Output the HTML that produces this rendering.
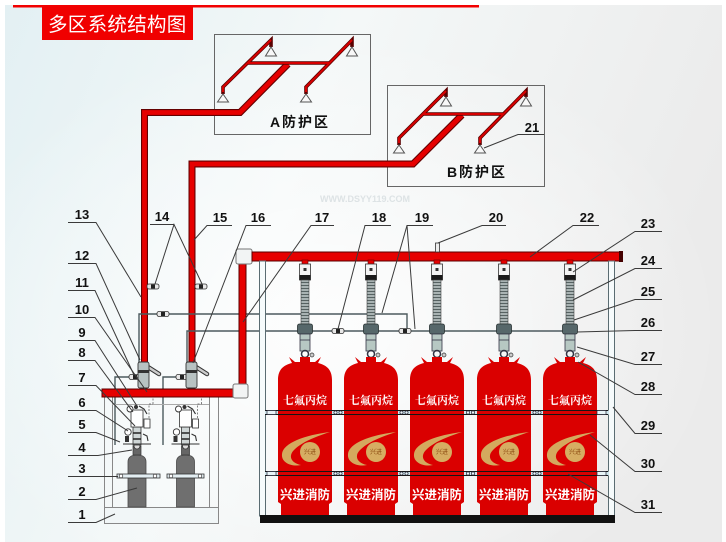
<!DOCTYPE html>
<html><head><meta charset="utf-8">
<style>
html,body{margin:0;padding:0;background:#fff;}
svg{display:block;}
.n{font-family:"Liberation Sans",Arial,sans-serif;font-weight:bold;font-size:13px;fill:#111;text-anchor:middle;}
.ld{stroke:#3a3a3a;stroke-width:1;fill:none;}
.pl{stroke:#4c5a5e;stroke-width:1.4;fill:none;}
.fr{stroke:#5a6c72;stroke-width:1;fill:none;}
</style></head><body>
<svg width="726" height="542" viewBox="0 0 726 542" xmlns="http://www.w3.org/2000/svg">
<defs>
<linearGradient id="bg" x1="0" y1="0" x2="1" y2="0.3">
 <stop offset="0" stop-color="#e3f0f3"/>
 <stop offset="0.45" stop-color="#f4f8f8"/>
 <stop offset="1" stop-color="#ebebeb"/>
</linearGradient>
<radialGradient id="bg2" cx="0.45" cy="0.6" r="0.55">
 <stop offset="0" stop-color="#ffffff" stop-opacity="0.85"/>
 <stop offset="1" stop-color="#ffffff" stop-opacity="0"/>
</radialGradient>
<pattern id="hose" width="4" height="3" patternUnits="userSpaceOnUse">
 <rect width="4" height="3" fill="#a9b3b3"/>
 <rect x="0" y="0" width="4" height="1" fill="#566262"/>
</pattern>
<g id="cyl">
 <path d="M-27,380 C-27,369 -21,365 -13,363 L-16,357 L-10,362 L-5,362 L-5,357 L5,357 L5,362 L10,362 L16,357 L13,363 C21,365 27,369 27,380 L27,502 L24,504 L24,515 L-24,515 L-24,504 L-27,502 Z" fill="#da0000"/>
 <path d="M25,432 C0,435 -22,443 -23,454 C-24,463 -13,467 -4,465 C-14,463 -17,456 -11,450 C-2,441 13,436 25,432 Z" fill="#d4a95e"/>
 <circle cx="5" cy="452" r="10" fill="#d6ad62"/>
 <text x="5" y="454" font-size="6" fill="#8a4a10" text-anchor="middle" font-family="'Noto Sans CJK SC',sans-serif">兴进</text>
 <text x="0" y="404" font-size="11" fill="#fff" font-weight="bold" text-anchor="middle" font-family="'Liberation Serif','Noto Serif CJK SC',serif">七氟丙烷</text>
 <text x="0" y="499" font-size="12.5" fill="#fff" font-weight="bold" text-anchor="middle" font-family="'Liberation Sans','Noto Sans CJK SC',sans-serif">兴进消防</text>
</g>
<g id="asm">
 <rect x="-3" y="260" width="6" height="6" fill="#e60000" stroke="#600" stroke-width="0.6"/>
 <rect x="-5.5" y="264" width="11" height="16" fill="#f4f4f4" stroke="#333" stroke-width="0.8"/>
 <rect x="-5.5" y="275" width="11" height="5" fill="#1a1a1a"/>
 <rect x="-1.5" y="268" width="3" height="3" fill="#333"/>
 <rect x="-4" y="280" width="8" height="44" fill="url(#hose)" stroke="#444" stroke-width="0.6"/>
 <rect x="-7.5" y="324" width="15" height="10" rx="2" fill="#56676a" stroke="#2a3333" stroke-width="0.8"/>
 <rect x="-5" y="334" width="10" height="17" fill="#b7c8c3" stroke="#334" stroke-width="0.8"/>
 <line x1="-5" y1="340" x2="5" y2="340" stroke="#334" stroke-width="0.8"/>
 <circle cx="0" cy="354" r="3.5" fill="none" stroke="#334" stroke-width="1.5"/>
 <circle cx="7" cy="355" r="2" fill="#ccc" stroke="#333" stroke-width="0.7"/>
</g>
<g id="sml">
 <path d="M-9,507 L-9,462 Q-9,455 0,455 Q9,455 9,462 L9,507 Z" fill="#6f6f6f" stroke="#4a4a4a" stroke-width="0.8"/>
 <rect x="-4" y="446" width="8" height="9" fill="#666" stroke="#333" stroke-width="0.7"/>
 <circle cx="0" cy="446" r="3" fill="#ddd" stroke="#333" stroke-width="0.8"/>
 <rect x="-4" y="427" width="8" height="18" fill="#cfd6d6" stroke="#333" stroke-width="0.8"/>
 <line x1="-4" y1="433" x2="4" y2="433" stroke="#222" stroke-width="1.5"/>
 <line x1="-4" y1="439" x2="4" y2="439" stroke="#222" stroke-width="1.5"/>
 <rect x="-6" y="410" width="12" height="17" fill="#fff" stroke="#333" stroke-width="0.8"/>
 <rect x="7" y="419" width="6" height="9" fill="#fff" stroke="#333" stroke-width="0.8"/>
 <circle cx="-7" cy="409" r="3" fill="#fff" stroke="#333" stroke-width="0.9"/>
 <circle cx="-1" cy="407" r="2" fill="#333"/>
 <path d="M2,406 l5,3 l3,5" fill="none" stroke="#333" stroke-width="1.2"/>
 <circle cx="-9" cy="432" r="3.2" fill="#fff" stroke="#333" stroke-width="0.9"/>
 <rect x="-12" y="436" width="4" height="6" fill="#333"/>
 <path d="M6,434 l4,2 l1,5" fill="none" stroke="#333" stroke-width="1.1"/>
 <path d="M12,418 L12,404 L16,404 M16,404 L16,396" fill="none" stroke="#555" stroke-width="0.7" stroke-dasharray="2,1.5"/>
 <path d="M-14,444 L14,444" fill="none" stroke="#333" stroke-width="1"/>
</g>
<g id="cv">
 <rect x="0" y="-2.5" width="12" height="5" rx="2" fill="#e8e8e8" stroke="#333" stroke-width="0.8"/>
 <rect x="4" y="-2" width="4" height="4" fill="#222"/>
</g>
</defs>

<rect x="5" y="5" width="717" height="537" fill="url(#bg)"/>
<rect x="5" y="5" width="717" height="537" fill="url(#bg2)"/>

<!-- header -->
<rect x="13" y="5" width="466" height="2.5" fill="#f20000"/>
<rect x="42" y="7" width="151" height="33" fill="#f00000"/>
<text x="48" y="31" font-size="19.5" fill="#fff" font-family="'Liberation Sans','Noto Sans CJK SC',sans-serif" letter-spacing="0.3">多区系统结构图</text>

<text x="365" y="202" font-size="9" fill="#dde3e5" text-anchor="middle" font-family="'Liberation Sans',sans-serif" font-weight="bold">WWW.DSYY119.COM</text>

<!-- zone boxes -->
<rect x="214.5" y="34.5" width="156" height="100" fill="none" stroke="#666" stroke-width="1"/>
<rect x="387.5" y="85.5" width="157" height="101" fill="none" stroke="#666" stroke-width="1"/>
<text x="300" y="127" font-size="14" font-weight="bold" fill="#111" text-anchor="middle" letter-spacing="2" font-family="'Liberation Sans','Noto Sans CJK SC',sans-serif">A防护区</text>
<text x="477" y="177" font-size="14" font-weight="bold" fill="#111" text-anchor="middle" letter-spacing="2" font-family="'Liberation Sans','Noto Sans CJK SC',sans-serif">B防护区</text>

<!-- main pipes -->
<g fill="none" stroke-linejoin="miter">
 <polyline points="144.5,364 144.5,112.5 240,112.5 288,64" stroke="#640000" stroke-width="7"/>
 <polyline points="144.5,364 144.5,112.5 240,112.5 288,64" stroke="#e60000" stroke-width="4.8"/>
 <polyline points="192,364 192,164 413,164 462,115" stroke="#640000" stroke-width="7"/>
 <polyline points="192,364 192,164 413,164 462,115" stroke="#e60000" stroke-width="4.8"/>
 <!-- A branches -->
 <g stroke="#5a0000" stroke-width="3.6">
  <polyline points="223,94 223,87 271,40 271,47"/>
  <polyline points="306,94 306,87 352,40 352,47"/>
  <line x1="248" y1="63" x2="330" y2="63"/>
  <polyline points="399,145 399,138 446,91 446,97"/>
  <polyline points="480,145 480,138 526,91 526,97"/>
  <line x1="423" y1="114" x2="504" y2="114"/>
 </g>
 <g stroke="#d80000" stroke-width="2">
  <polyline points="223,92 223,87 271,40"/>
  <polyline points="306,92 306,87 352,40"/>
  <line x1="248" y1="63" x2="330" y2="63"/>
  <polyline points="399,143 399,138 446,91"/>
  <polyline points="480,143 480,138 526,91"/>
  <line x1="423" y1="114" x2="504" y2="114"/>
 </g>
</g>
<!-- sprinklers -->
<g fill="#f8f8f8" stroke="#555" stroke-width="1">
 <path d="M271,47 L276.5,56 L265.5,56 Z"/>
 <path d="M352,47 L357.5,56 L346.5,56 Z"/>
 <path d="M223,94 L228.5,102 L217.5,102 Z"/>
 <path d="M306,94 L311.5,102 L300.5,102 Z"/>
 <path d="M446,97 L451.5,106 L440.5,106 Z"/>
 <path d="M526,97 L531.5,106 L520.5,106 Z"/>
 <path d="M399,145 L404.5,153 L393.5,153 Z"/>
 <path d="M480,145 L485.5,153 L474.5,153 Z"/>
</g>
<text class="n" x="532" y="132">21</text>
<polyline class="ld" points="544,134.5 518,134.5 484,148"/>

<!-- check valves 14 -->
<use href="#cv" x="147" y="286.5"/>
<use href="#cv" x="195" y="286.5"/>

<!-- pilot lines -->
<polyline class="pl" points="139,363 139,314 407,314 407,331"/>
<polyline class="pl" points="187,363 187,331 576,331"/>
<polyline class="pl" points="115,445 115,377 131,377"/>
<polyline class="pl" points="163,445 163,377 179,377"/>
<use href="#cv" x="157" y="314"/>
<use href="#cv" x="332" y="331"/>
<use href="#cv" x="399" y="331"/>
<use href="#cv" x="129" y="377"/>
<use href="#cv" x="176" y="377"/>

<!-- start valves -->
<g>
 <line x1="148" y1="367" x2="159" y2="374" stroke="#333" stroke-width="4.5" stroke-linecap="round"/>
 <line x1="148" y1="367" x2="159" y2="374" stroke="#ccc" stroke-width="2.5" stroke-linecap="round"/>
 <rect x="138" y="362" width="11" height="26" rx="2" fill="#b8c2c2" stroke="#333" stroke-width="0.9"/>
 <rect x="138" y="370" width="11" height="3" fill="#333"/>
 <line x1="196" y1="367" x2="207" y2="374" stroke="#333" stroke-width="4.5" stroke-linecap="round"/>
 <line x1="196" y1="367" x2="207" y2="374" stroke="#ccc" stroke-width="2.5" stroke-linecap="round"/>
 <rect x="186" y="362" width="11" height="26" rx="2" fill="#b8c2c2" stroke="#333" stroke-width="0.9"/>
 <rect x="186" y="370" width="11" height="3" fill="#333"/>
</g>

<!-- left cabinet -->
<rect x="104.5" y="507.5" width="114" height="16" fill="#f1f6f7" stroke="#888" stroke-width="1"/>
<polyline points="104.5,397 104.5,523.5 218.5,523.5 218.5,397" fill="none" stroke="#888" stroke-width="1"/>
<line x1="112.5" y1="397" x2="112.5" y2="507" stroke="#888" stroke-width="1"/>
<line x1="209.5" y1="397" x2="209.5" y2="507" stroke="#888" stroke-width="1"/>
<line x1="112" y1="404.5" x2="209" y2="404.5" stroke="#aaa" stroke-width="1"/>
<use href="#sml" x="137" y="0"/>
<use href="#sml" x="185.5" y="0"/>
<rect x="117" y="474" width="43" height="4" fill="#e3eef2" stroke="#333" stroke-width="0.8"/>
<rect x="167" y="474" width="37" height="4" fill="#e3eef2" stroke="#333" stroke-width="0.8"/>
<circle cx="121" cy="476" r="1.8" fill="#fff" stroke="#333" stroke-width="0.7"/>
<circle cx="155" cy="476" r="1.8" fill="#fff" stroke="#333" stroke-width="0.7"/>
<circle cx="171" cy="476" r="1.8" fill="#fff" stroke="#333" stroke-width="0.7"/>
<circle cx="200" cy="476" r="1.8" fill="#fff" stroke="#333" stroke-width="0.7"/>

<!-- collector & riser -->
<rect x="102" y="389" width="132" height="8" fill="#e60000" stroke="#5a0000" stroke-width="1"/>
<rect x="239" y="262" width="7" height="123" fill="#e60000" stroke="#5a0000" stroke-width="1"/>
<rect x="233" y="384" width="15" height="14" rx="2" fill="#f2f4f4" stroke="#777" stroke-width="1"/>
<rect x="236" y="249" width="16" height="15" rx="2" fill="#f2f4f4" stroke="#777" stroke-width="1"/>
<rect x="252" y="252" width="369" height="9" fill="#e60000" stroke="#5a0000" stroke-width="1"/>
<rect x="619" y="251" width="4" height="11" fill="#400"/>
<rect x="435.5" y="243" width="4" height="9" fill="#eee" stroke="#333" stroke-width="0.8"/>

<!-- rack frame -->
<rect x="259.5" y="261" width="6" height="255" fill="#f6fbfc" stroke="#5a6c72" stroke-width="1"/>
<rect x="608.5" y="261" width="6" height="255" fill="#f6fbfc" stroke="#5a6c72" stroke-width="1"/>

<!-- strap backgrounds -->
<rect x="265" y="410.5" width="344" height="4" fill="#cfe6ee"/>
<rect x="265" y="471.5" width="344" height="4" fill="#cfe6ee"/>

<!-- cylinders -->
<use href="#asm" x="305" y="0"/>
<use href="#asm" x="371" y="0"/>
<use href="#asm" x="437" y="0"/>
<use href="#asm" x="504" y="0"/>
<use href="#asm" x="570" y="0"/>
<use href="#cyl" x="305" y="0"/>
<use href="#cyl" x="371" y="0"/>
<use href="#cyl" x="437" y="0"/>
<use href="#cyl" x="504" y="0"/>
<use href="#cyl" x="570" y="0"/>

<!-- straps -->
<g stroke="#151515" stroke-width="1">
 <line x1="265" y1="410.5" x2="608" y2="410.5"/>
 <line x1="265" y1="414.5" x2="608" y2="414.5"/>
 <line x1="265" y1="471.5" x2="608" y2="471.5"/>
 <line x1="265" y1="475.5" x2="608" y2="475.5"/>
</g>
<g fill="#e8f4f8" stroke="#223" stroke-width="0.7">
 <rect x="267" y="410.5" width="9" height="4"/>
 <rect x="597" y="410.5" width="9" height="4"/>
 <rect x="267" y="471.5" width="9" height="4"/>
 <rect x="597" y="471.5" width="9" height="4"/>
 <circle cx="335.5" cy="412.5" r="1.6"/><circle cx="340.5" cy="412.5" r="1.6"/>
 <circle cx="401.5" cy="412.5" r="1.6"/><circle cx="406.5" cy="412.5" r="1.6"/>
 <circle cx="468" cy="412.5" r="1.6"/><circle cx="473" cy="412.5" r="1.6"/>
 <circle cx="534.5" cy="412.5" r="1.6"/><circle cx="539.5" cy="412.5" r="1.6"/>
 <circle cx="335.5" cy="473.5" r="1.6"/><circle cx="340.5" cy="473.5" r="1.6"/>
 <circle cx="401.5" cy="473.5" r="1.6"/><circle cx="406.5" cy="473.5" r="1.6"/>
 <circle cx="468" cy="473.5" r="1.6"/><circle cx="473" cy="473.5" r="1.6"/>
 <circle cx="534.5" cy="473.5" r="1.6"/><circle cx="539.5" cy="473.5" r="1.6"/>
</g>
<rect x="260" y="515" width="355" height="8" fill="#111"/>

<!-- left labels -->
<g class="n">
 <text x="82" y="219">13</text>
 <text x="82" y="260">12</text>
 <text x="82" y="287">11</text>
 <text x="82" y="314">10</text>
 <text x="82" y="337">9</text>
 <text x="82" y="357">8</text>
 <text x="82" y="382">7</text>
 <text x="82" y="407">6</text>
 <text x="82" y="429">5</text>
 <text x="82" y="452">4</text>
 <text x="82" y="473">3</text>
 <text x="82" y="496">2</text>
 <text x="82" y="519">1</text>
</g>
<g class="ld">
 <polyline points="68,222.5 96,222.5 141,297"/>
 <polyline points="68,263.5 96,263.5 140,360"/>
 <polyline points="68,290.5 95,290.5 134,375"/>
 <polyline points="68,317.5 95,317.5 147,392"/>
 <polyline points="68,340.5 95,340.5 137,406"/>
 <polyline points="68,360.5 95,360.5 133,412"/>
 <polyline points="68,385.5 96,385.5 135,426"/>
 <polyline points="68,410.5 96,410.5 128,431"/>
 <polyline points="68,432.5 96,432.5 120,442"/>
 <polyline points="68,455.5 98,455.5 132,450"/>
 <polyline points="68,476.5 118,476.5"/>
 <polyline points="68,499.5 96,499.5 137,488"/>
 <polyline points="68,522.5 96,522.5 115,514"/>
</g>

<!-- top labels -->
<g class="n">
 <text x="162" y="221">14</text>
 <text x="220" y="222">15</text>
 <text x="258" y="222">16</text>
 <text x="322" y="222">17</text>
 <text x="379" y="222">18</text>
 <text x="422" y="222">19</text>
 <text x="496" y="222">20</text>
 <text x="587" y="222">22</text>
</g>
<g class="ld">
 <polyline points="150,224.5 174,224.5"/>
 <polyline points="155,284 174,224.5 202,284"/>
 <polyline points="232,225.5 207,225.5 194,240"/>
 <polyline points="271,225.5 246,225.5 193,363"/>
 <polyline points="334,225.5 311,225.5 243,322"/>
 <polyline points="391,225.5 365,225.5 338,329"/>
 <polyline points="433,225.5 407,225.5 382,313"/>
 <polyline points="407,225.5 415,329"/>
 <polyline points="506,225.5 482,225.5 438,243"/>
 <polyline points="599,225.5 573,225.5 530,257"/>
</g>

<!-- right labels -->
<g class="n">
 <text x="648" y="228">23</text>
 <text x="648" y="265">24</text>
 <text x="648" y="296">25</text>
 <text x="648" y="327">26</text>
 <text x="648" y="361">27</text>
 <text x="648" y="391">28</text>
 <text x="648" y="430">29</text>
 <text x="648" y="468">30</text>
 <text x="648" y="509">31</text>
</g>
<g class="ld">
 <polyline points="662,231.5 635,231.5 573,272"/>
 <polyline points="662,268.5 635,268.5 573,300"/>
 <polyline points="662,299.5 635,299.5 574,320"/>
 <polyline points="662,330.5 635,330.5 577,332"/>
 <polyline points="662,364.5 635,364.5 577,347"/>
 <polyline points="662,394.5 635,394.5 578,362"/>
 <polyline points="662,433.5 635,433.5 613,407"/>
 <polyline points="662,471.5 635,471.5 590,435"/>
 <polyline points="662,512.5 635,512.5 568,474"/>
</g>
</svg>
</body></html>
